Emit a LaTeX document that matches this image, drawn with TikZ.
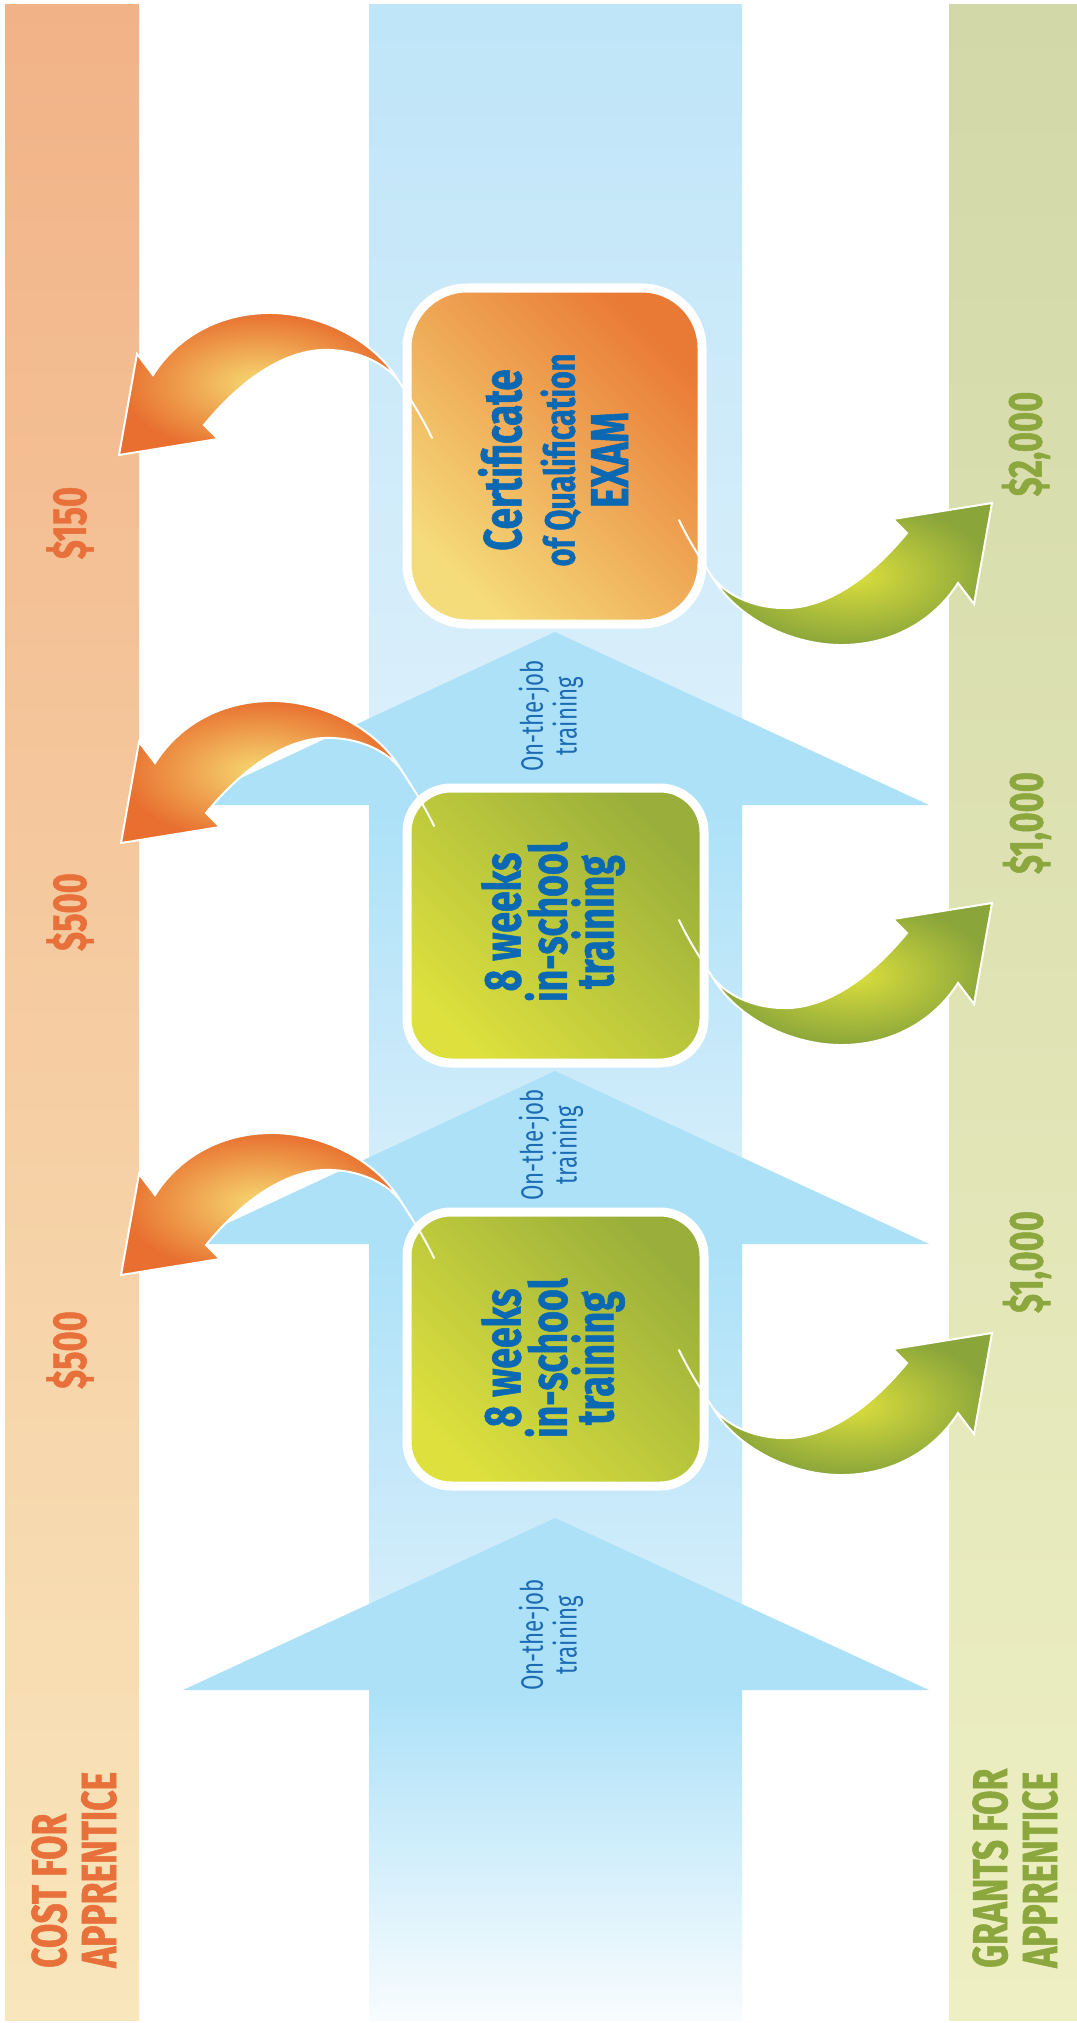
\documentclass[tikz,border=0pt]{standalone}
\usepackage{fontspec}
\setmainfont{Fira Sans}[FakeStretch=0.72, BoldFeatures={FakeBold=1}]
\usepackage{tikz}

\definecolor{costorange}{HTML}{E8703A}
\definecolor{costtop}{HTML}{F2B287}
\definecolor{costbottom}{HTML}{F9E6BC}
\definecolor{grantgreen}{HTML}{8CA73D}
\definecolor{granttop}{HTML}{D2D8A7}
\definecolor{grantbottom}{HTML}{EEF0C3}
\definecolor{textblue}{HTML}{0B68B3}
\definecolor{jobblue}{HTML}{1C6CB5}
\definecolor{headblue}{HTML}{ACE1F8}
\definecolor{skyblue}{HTML}{BEE5F8}
\definecolor{paleblue}{HTML}{DDF0FB}
\definecolor{fadeblue}{HTML}{F8FCFE}
\definecolor{glowyellow}{HTML}{F6DA72}
\definecolor{deeporange}{HTML}{E86F2F}
\definecolor{limegreen}{HTML}{DCDF3D}
\definecolor{olivegreen}{HTML}{8AA53A}
\definecolor{boxorange}{HTML}{E97A35}
\definecolor{boxyellow}{HTML}{F5DC7A}
\definecolor{boxolive}{HTML}{9AAF3B}
\definecolor{boxlime}{HTML}{DDE03D}

\newcommand{\bentarrow}[4]{%
    \begin{scope}[shift={#1}, rotate=#2]
        \shade[inner color=#3, outer color=#4, draw=white, line width=0.05cm]
            (279,-75) .. controls (255,-115) and (200,-143) .. (148,-142)
            .. controls (96,-141) and (56,-115) .. (34,-80)
            -- (18,-101) -- (0,0) -- (99,-16) -- (85,-30)
            .. controls (126,-80) and (171,-107) .. (211,-105)
            .. controls (240,-104) and (265,-92) .. (279,-75) -- cycle;
        \draw[white, line width=0.05cm, line cap=round] (279,-75) .. controls (292,-55) and (303,-38) .. (313,-17);
    \end{scope}}

\begin{document}
\begin{tikzpicture}[x=0.025cm, y=-0.025cm,
    amount/.style={font=\bfseries\fontsize{34}{34}\selectfont, rotate=90, inner sep=0pt},
    cost/.style={amount, text=costorange},
    grant/.style={amount, text=grantgreen},
    bartitle/.style={font=\bfseries\fontsize{35}{35.4}\selectfont, rotate=90, align=left, inner sep=0pt, anchor=north west},
    cardtext/.style={font=\bfseries\fontsize{37}{33}\selectfont, text=textblue, rotate=90, align=center, inner sep=0pt},
    joblabel/.style={font=\fontsize{22}{24}\selectfont, text=jobblue, rotate=90, align=center, inner sep=0pt},
    card/.style={draw=white, line width=0.225cm},
    examcard/.style={card, rounded corners=1.5cm, top color=boxorange, bottom color=boxyellow, shading angle=-45},
    schoolcard/.style={card, rounded corners=1.1cm, top color=boxolive, bottom color=boxlime, shading angle=-45}]

    \useasboundingbox (0,0) rectangle (1077,2023);
    \fill[white] (0,0) rectangle (1077,2023);

    \shade[top color=costtop, bottom color=costbottom] (5,5) rectangle (139,2020);
    \shade[top color=granttop, bottom color=grantbottom] (949,5) rectangle (1077,2020);

    \shade[top color=skyblue, bottom color=paleblue] (369,5) rectangle (742,805);
    \shade[top color=headblue, bottom color=paleblue] (369,805) rectangle (742,1244);
    \shade[top color=headblue, bottom color=paleblue] (369,1244) rectangle (742,1690);
    \shade[top color=headblue, bottom color=fadeblue] (369,1690) rectangle (742,2020);

    \fill[headblue] (555,632) -- (929,805) -- (183,805) -- cycle;
    \fill[headblue] (555,1071) -- (929,1244) -- (183,1244) -- cycle;
    \fill[headblue] (555,1518) -- (929,1690) -- (183,1690) -- cycle;

    \shade[examcard] (407,288) rectangle (702,624);
    \shade[schoolcard] (407,788) rectangle (704,1063);
    \shade[schoolcard] (407,1212) rectangle (704,1486);

    \bentarrow{(119,455)}{0}{glowyellow}{deeporange}
    \bentarrow{(121,843)}{0}{glowyellow}{deeporange}
    \bentarrow{(121,1275)}{0}{glowyellow}{deeporange}
    \bentarrow{(992,503)}{180}{limegreen}{olivegreen}
    \bentarrow{(992,903)}{180}{limegreen}{olivegreen}
    \bentarrow{(992,1333)}{180}{limegreen}{olivegreen}

    \node[cardtext, font=\bfseries\fontsize{38}{38}\selectfont] (exam) at (553,460)
        {Certificate\\{\fontsize{30}{38}\selectfont of Qualification}\\EXAM};
    \node[cardtext] (schooltwo) at (553,922) {8 weeks\\in-school\\training};
    \node[cardtext] (schoolone) at (553,1358) {8 weeks\\in-school\\training};

    \node[joblabel] (jobthree) at (551,716) {On-the-job\\training};
    \node[joblabel] (jobtwo) at (551,1145) {On-the-job\\training};
    \node[joblabel] (jobone) at (551,1635) {On-the-job\\training};

    \node[cost] (costexam) at (70,523) {\$150};
    \node[cost] (costtwo) at (70,912) {\$500};
    \node[cost] (costone) at (70,1350) {\$500};

    \node[grant] (grantexam) at (1026,444) {\$2,000};
    \node[grant] (granttwo) at (1027,823) {\$1,000};
    \node[grant] (grantone) at (1027,1262) {\$1,000};

    \node[bartitle, text=costorange] (costtitle) at (31,1968) {COST FOR\\APPRENTICE};
    \node[bartitle, text=grantgreen] (granttitle) at (972,1968) {GRANTS FOR\\APPRENTICE};

\end{tikzpicture}
\end{document}
